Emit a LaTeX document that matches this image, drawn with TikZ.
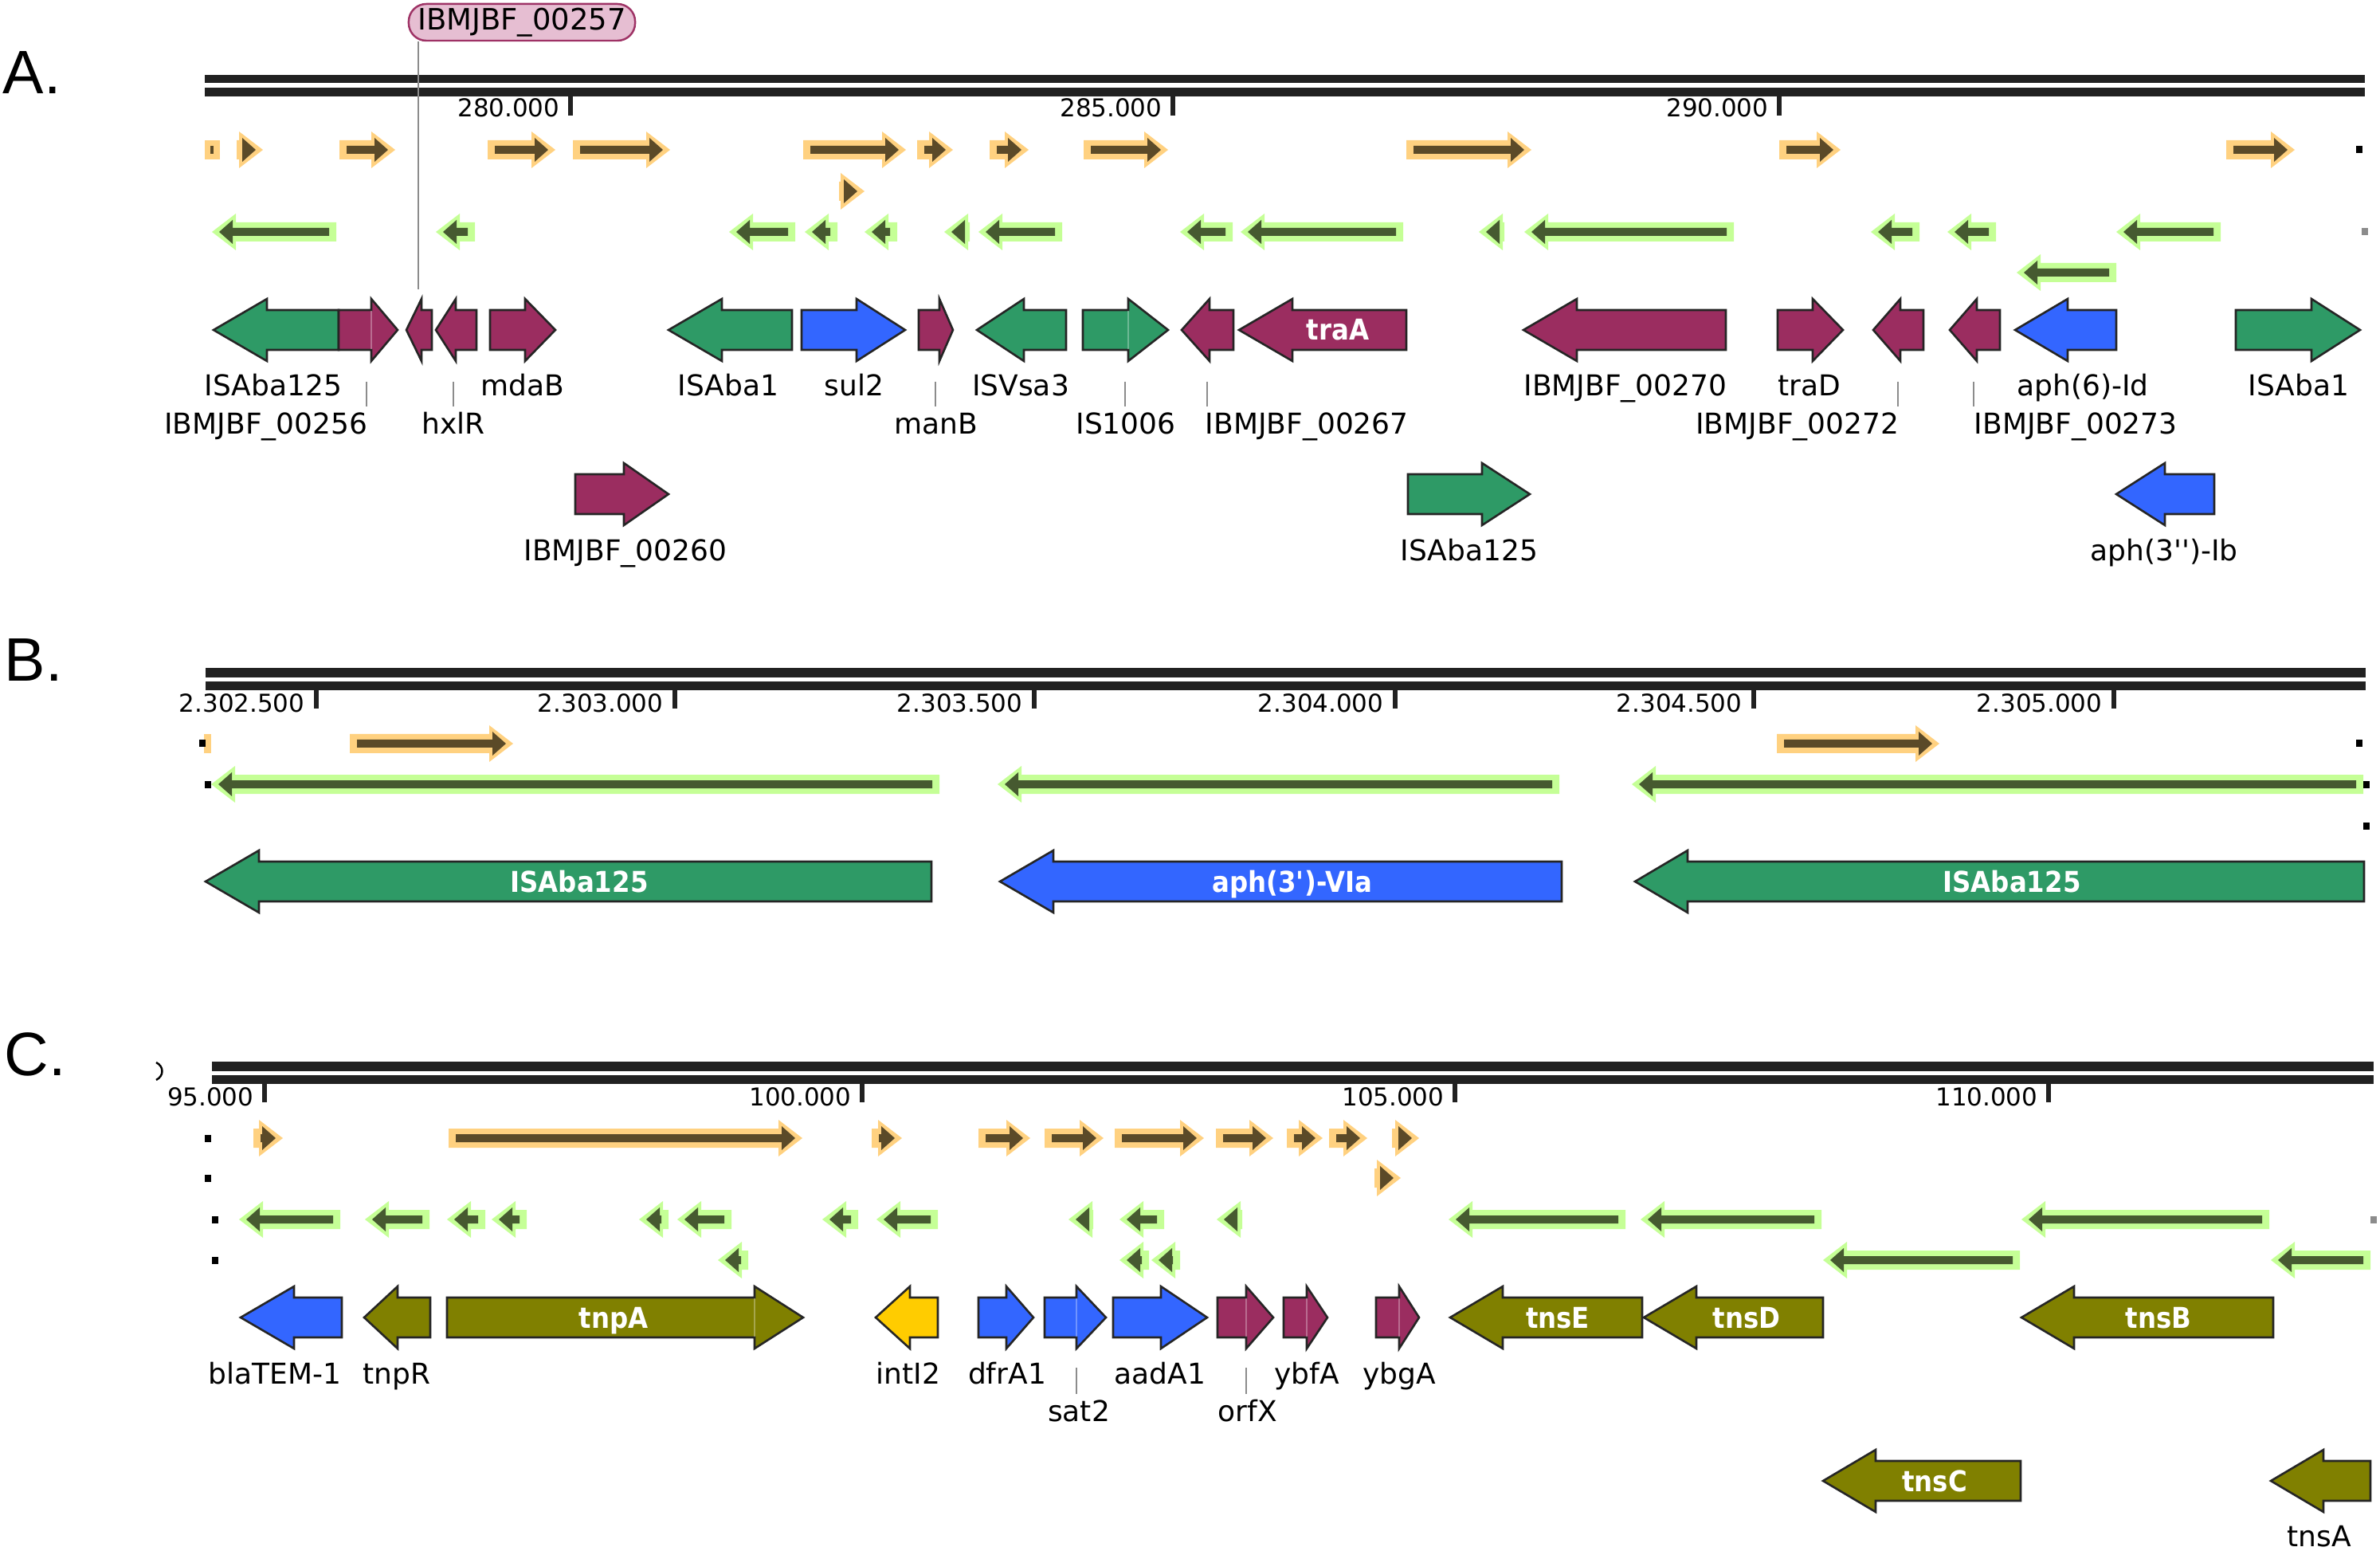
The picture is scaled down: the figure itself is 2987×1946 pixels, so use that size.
\documentclass[tikz,border=0pt]{standalone}
\usepackage{fontspec}
\setmainfont{DejaVu Sans}
\newfontfamily\boldcond{DejaVu Sans}[FakeStretch=0.9]
\newfontfamily\letterfont{Liberation Sans}
\definecolor{cgreen}{HTML}{2E9A66}
\definecolor{cpurple}{HTML}{9B2D60}
\definecolor{cblue}{HTML}{3366FF}
\definecolor{colive}{HTML}{808000}
\definecolor{cyellow}{HTML}{FFCC00}
\definecolor{geneline}{HTML}{252525}
\definecolor{orfOl}{HTML}{FFD180}
\definecolor{orfOd}{HTML}{5B4A28}
\definecolor{orfGl}{HTML}{C5FF96}
\definecolor{orfGd}{HTML}{465A30}
\definecolor{rulec}{HTML}{212121}
\definecolor{pinkfill}{HTML}{E6BED2}
\definecolor{pinkline}{HTML}{9E3265}
\definecolor{leadc}{HTML}{8C8C8C}
\tikzset{
 genebox/.style={draw=geneline, line width=0.74pt, line join=miter},
 lab/.style={font=\fontsize{10.24}{12}\selectfont, inner sep=0pt, anchor=base, text=black},
 wlab/.style={font=\boldcond\bfseries\fontsize{10.24}{12}\selectfont, inner sep=0pt, anchor=base, text=white},
 rlab/.style={font=\fontsize{8.8}{10}\selectfont, inner sep=0pt, anchor=base east},
 leader/.style={draw=leadc, line width=0.57pt},
 panel/.style={font=\letterfont\fontsize{21.9}{24}\selectfont, inner sep=0pt, anchor=base west},
 seam/.style={draw=white, draw opacity=0.3, line width=0.3pt},
}
% genes: right-pointing {y}{start}{headbase}{tip}{colour}
\newcommand\gR[5]{\filldraw[genebox, fill=#5] (#2,#1-25) -- (#3,#1-25) -- (#3,#1-39) -- (#4,#1) -- (#3,#1+39) -- (#3,#1+25) -- (#2,#1+25) -- cycle;}
% left-pointing {y}{tip}{headbase}{end}{colour}
\newcommand\gL[5]{\filldraw[genebox, fill=#5] (#2,#1) -- (#3,#1-39) -- (#3,#1-25) -- (#4,#1-25) -- (#4,#1+25) -- (#3,#1+25) -- (#3,#1+39) -- cycle;}
\newcommand\seamat[2]{\draw[seam] (#2,#1-24) -- (#2,#1+24);}
% ORFs
\newcommand\orfR[3]{%
  \pgfmathsetmacro\qHB{max(#2,#3-30)}%
  \pgfmathsetmacro\qIT{#3-9}%
  \pgfmathsetmacro\qIH{\qIT-17}%
  \pgfmathsetmacro\qIL{min(#2+9,\qIH)}%
  \fill[orfOl] (#2,#1-12) -- (\qHB,#1-12) -- (\qHB,#1-23) -- (#3,#1) -- (\qHB,#1+23) -- (\qHB,#1+12) -- (#2,#1+12) -- cycle;
  \fill[orfOd] (\qIL,#1-5) -- (\qIH,#1-5) -- (\qIH,#1-15) -- (\qIT,#1) -- (\qIH,#1+15) -- (\qIH,#1+5) -- (\qIL,#1+5) -- cycle;}
\newcommand\orfL[3]{%
  \pgfmathsetmacro\qHB{min(#3,#2+30)}%
  \pgfmathsetmacro\qIT{#2+9}%
  \pgfmathsetmacro\qIH{\qIT+17}%
  \pgfmathsetmacro\qIL{max(#3-9,\qIH)}%
  \fill[orfGl] (#3,#1-12) -- (\qHB,#1-12) -- (\qHB,#1-23) -- (#2,#1) -- (\qHB,#1+23) -- (\qHB,#1+12) -- (#3,#1+12) -- cycle;
  \fill[orfGd] (\qIL,#1-5) -- (\qIH,#1-5) -- (\qIH,#1-15) -- (\qIT,#1) -- (\qIH,#1+15) -- (\qIH,#1+5) -- (\qIL,#1+5) -- cycle;}
\newcommand\sq[3][black]{\fill[#1] (#3,#2-4.5) rectangle (#3+8,#2+4.5);}

\begin{document}
\begin{tikzpicture}[x=0.01cm, y=-0.01cm]
\useasboundingbox (0,0) rectangle (2987,1946);

%================ PANEL A =================
\node[panel] (pA) at (3,118) {A.};
% ruler
\fill[rulec] (257,94) rectangle (2968,104);
\fill[rulec] (257,110) rectangle (2968,121);
\foreach \x/\t in {716/280.000, 1472/285.000, 2233/290.000}{
  \fill[rulec] (\x-3,121) rectangle (\x+3,145);
  \node[rlab] at (\x-13,147) {\t};
}
% ORFs forward
\fill[orfOl] (257,176) rectangle (276,200);
\fill[orfOd] (264,183) rectangle (268,193);
\foreach \a/\b in {297/330, 426/496, 612/697, 719/841, 1008/1137, 1151/1196, 1242/1291, 1360/1466, 1765/1922, 2233/2310, 2794/2880}
  {\orfR{188}{\a}{\b}}
\orfR{240}{1053}{1085}
\sq{188}{2957}
% ORFs reverse
\foreach \a/\b in {266/422, 547/596, 915/998, 1010/1051, 1085/1126, 1185/1217, 1228/1333, 1481/1547, 1557/1761, 1856/1888, 1913/2176, 2348/2409, 2444/2505, 2656/2787}
  {\orfL{291}{\a}{\b}}
\orfL{342}{2531}{2656}
\sq[leadc]{291}{2964}
% genes row 1
\gL{414}{268}{335}{425}{cgreen}
\gR{414}{425}{466}{499}{cpurple}\seamat{414}{466}
\gL{414}{510}{529}{542}{cpurple}
\gL{414}{547}{572}{598}{cpurple}
\gR{414}{615}{659}{697}{cpurple}
\gL{414}{839}{906}{994}{cgreen}
\gR{414}{1006}{1075}{1136}{cblue}
\gR{414}{1153}{1179}{1196}{cpurple}
\gL{414}{1226}{1285}{1338}{cgreen}
\gR{414}{1359}{1416}{1466}{cgreen}\seamat{414}{1416}
\gL{414}{1483}{1518}{1548}{cpurple}
\gL{414}{1555}{1622}{1765}{cpurple}
\gL{414}{1912}{1979}{2166}{cpurple}
\gR{414}{2231}{2275}{2313}{cpurple}
\gL{414}{2351}{2385}{2414}{cpurple}
\gL{414}{2447}{2481}{2510}{cpurple}
\gL{414}{2529}{2595}{2656}{cblue}
\gR{414}{2806}{2901}{2962}{cgreen}
% genes row 2
\gR{620}{722}{783}{839}{cpurple}
\gR{620}{1767}{1860}{1920}{cgreen}
\gL{620}{2656}{2717}{2779}{cblue}
\node[wlab] (traA) at (1679,427) {traA};
% labels
\node[lab] (lISAba125a) at (343,497) {ISAba125};
\node[lab, anchor=base east] (l256) at (462,545) {IBMJBF\_00256};
\node[lab] (lhxlR) at (569,545) {hxlR};
\node[lab] (lmdaB) at (656,497) {mdaB};
\node[lab] (lISAba1a) at (914,497) {ISAba1};
\node[lab] (lsul2) at (1072,497) {sul2};
\node[lab] (lmanB) at (1175,545) {manB};
\node[lab] (lISVsa3) at (1281,497) {ISVsa3};
\node[lab] (lIS1006) at (1413,545) {IS1006};
\node[lab, anchor=base west] (l267) at (1512,545) {IBMJBF\_00267};
\node[lab] (l270) at (2040,497) {IBMJBF\_00270};
\node[lab] (ltraD) at (2271,497) {traD};
\node[lab, anchor=base east] (l272) at (2384,545) {IBMJBF\_00272};
\node[lab, anchor=base west] (l273) at (2477,545) {IBMJBF\_00273};
\node[lab] (laph6) at (2614,497) {aph(6)-Id};
\node[lab] (lISAba1b) at (2885,497) {ISAba1};
\node[lab] (l260) at (785,704) {IBMJBF\_00260};
\node[lab] (lISAba125b) at (1844,704) {ISAba125};
\node[lab] (laph3) at (2716,704) {aph(3\textquotesingle\textquotesingle)-Ib};
\foreach \x in {460, 569, 1174, 1412, 1515, 2382, 2477}
  \draw[leader] (\x,479) -- (\x,510);
% pink callout
\coordinate (g257) at (525,363);
\node[draw=pinkline, fill=pinkfill, line width=0.7pt, rounded corners=0.22cm, minimum width=2.84cm, minimum height=0.46cm, inner sep=0pt, font=\fontsize{10.5}{12}\selectfont] (lab257) at (655,28) {IBMJBF\_00257};
\draw[leader] (lab257.south -| g257) -- (g257);

%================ PANEL B =================
\node[panel] (pB) at (5,855) {B.};
\fill[rulec] (258,838) rectangle (2969,850);
\fill[rulec] (258,855) rectangle (2969,866);
\foreach \x/\t in {397/2.302.500, 847/2.303.000, 1298/2.303.500, 1751/2.304.000, 2201/2.304.500, 2653/2.305.000}{
  \fill[rulec] (\x-3,866) rectangle (\x+3,889);
  \node[rlab] at (\x-14,893) {\t};
}
\fill[orfOl] (256,921) rectangle (265,945);
\sq{933}{250}
\orfR{933}{439}{644}
\orfR{933}{2230}{2434}
\sq{933}{2957}
\orfL{984}{265}{1179}
\orfL{984}{1252}{1957}
\orfL{984}{2048}{2966}
\sq{984}{257}
\sq{984}{2966}
\sq{1036}{2966}
\gL{1106}{258}{325}{1169}{cgreen}
\gL{1106}{1255}{1322}{1960}{cblue}
\gL{1106}{2052}{2118}{2967}{cgreen}
\node[wlab] (bIS1) at (727,1119) {ISAba125};
\node[wlab] (baph) at (1622,1119) {aph(3\textquotesingle)-VIa};
\node[wlab] (bIS2) at (2525,1119) {ISAba125};

%================ PANEL C =================
\node[panel] (pC) at (5,1349) {C.};
\draw[line width=0.7pt] (196,1333) .. controls (206,1338) and (206,1350) .. (196,1355);
\fill[rulec] (266,1332) rectangle (2979,1344);
\fill[rulec] (266,1349) rectangle (2979,1360);
\foreach \x/\t in {332/95.000, 1082/100.000, 1826/105.000, 2571/110.000}{
  \fill[rulec] (\x-3,1360) rectangle (\x+3,1383);
  \node[rlab] at (\x-13,1387) {\t};
}
\sq{1428}{257}
\foreach \a/\b in {318/355, 563/1007, 1094/1132, 1228/1293, 1311/1385, 1399/1511, 1526/1598, 1615/1660, 1668/1716, 1747/1781}
  {\orfR{1428}{\a}{\b}}
\sq{1478}{257}
\orfR{1478}{1725}{1758}
\sq{1530}{266}
\foreach \a/\b in {300/427, 458/539, 561/609, 617/661, 802/839, 850/918, 1032/1077, 1100/1177, 1341/1372, 1405/1461, 1527/1559, 1818/2040, 2059/2286, 2537/2848}
  {\orfL{1530}{\a}{\b}}
\sq[leadc]{1530}{2975}
\sq{1581}{266}
\foreach \a/\b in {901/939, 1405/1442, 1445/1481, 2288/2535, 2850/2975}
  {\orfL{1581}{\a}{\b}}
% genes
\gL{1653}{302}{369}{429}{cblue}
\gL{1653}{457}{499}{540}{colive}
\gR{1653}{561}{947}{1008}{colive}\seamat{1653}{947}
\gL{1653}{1099}{1142}{1177}{cyellow}
\gR{1653}{1228}{1263}{1297}{cblue}
\gR{1653}{1311}{1351}{1388}{cblue}\seamat{1653}{1351}
\gR{1653}{1397}{1457}{1515}{cblue}
\gR{1653}{1528}{1564}{1598}{cpurple}\seamat{1653}{1564}
\gR{1653}{1611}{1640}{1666}{cpurple}\seamat{1653}{1640}
\gR{1653}{1727}{1756}{1781}{cpurple}\seamat{1653}{1756}
\gL{1653}{1820}{1886}{2061}{colive}
\gL{1653}{2063}{2129}{2288}{colive}
\gL{1653}{2537}{2603}{2853}{colive}
\gL{1858}{2288}{2354}{2536}{colive}
\gL{1858}{2850}{2916}{2975}{colive}
\node[wlab] (ctnpA) at (770,1666) {tnpA};
\node[wlab] (ctnsE) at (1955,1666) {tnsE};
\node[wlab] (ctnsD) at (2192,1666) {tnsD};
\node[wlab] (ctnsB) at (2709,1666) {tnsB};
\node[wlab] (ctnsC) at (2428,1871) {tnsC};
% labels
\node[lab] (lbla) at (345,1736) {blaTEM-1};
\node[lab] (ltnpR) at (498,1736) {tnpR};
\node[lab] (lint) at (1140,1736) {intI2};
\node[lab] (ldfr) at (1264,1736) {dfrA1};
\node[lab] (lsat) at (1354,1783) {sat2};
\node[lab] (laad) at (1456,1736) {aadA1};
\node[lab] (lorf) at (1566,1783) {orfX};
\node[lab] (lybf) at (1640,1736) {ybfA};
\node[lab] (lybg) at (1756,1736) {ybgA};
\node[lab] (ltnsA) at (2911,1940) {tnsA};
\foreach \x in {1351, 1564}
  \draw[leader] (\x,1716) -- (\x,1749);
\end{tikzpicture}
\end{document}
